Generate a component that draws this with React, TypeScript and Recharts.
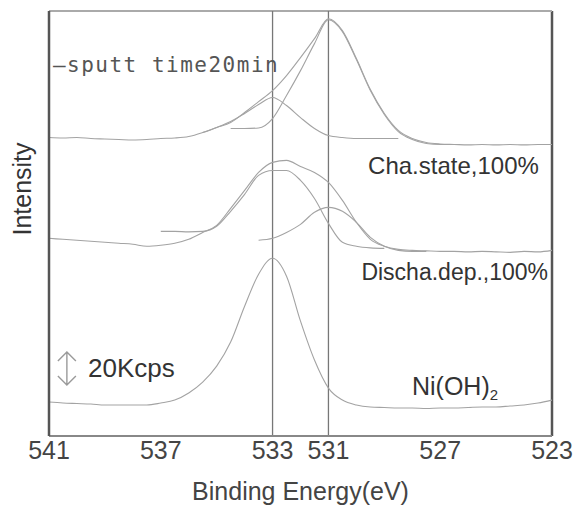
import {
  Line,
  LineChart,
  ReferenceDot,
  ReferenceLine,
  XAxis,
  YAxis,
} from "recharts";

// binding energy grid (eV), 0.5 eV steps
const energy = [
  541, 540.5, 540, 539.5, 539, 538.5, 538, 537.5, 537, 536.5, 536, 535.5, 535,
  534.5, 534, 533.5, 533, 532.5, 532, 531.5, 531, 530.5, 530, 529.5, 529,
  528.5, 528, 527.5, 527, 526.5, 526, 525.5, 525, 524.5, 524, 523.5, 523,
];
const energyTicks = [541, 537, 533, 531, 527, 523];
const peakLines = [533, 531];

// intensities in Kcps (spectra are stacked with offsets)
const chaState = [
  181.2, 180.9, 181.2, 180.6, 180.3, 180.0, 179.7, 180.0, 180.6, 180.9, 181.8,
  184.2, 187.3, 190.3, 196.4, 203.0, 209.7, 218.8, 229.7, 241.2, 253.3, 246.1,
  229.1, 210.3, 195.8, 185.5, 180.6, 178.2, 177.3, 177.0, 176.7, 177.0, 176.7,
  177.0, 176.7, 177.0, 177.0,
];
const chaState533 = [
  null, null, null, null, null, null, null, null, null, null, null,
  184.2, 187.3, 190.9, 195.8, 201.2, 205.5, 200.6, 193.3, 186.7, 182.4, 181.2,
  180.6, 180.6, 180.6, 180.6,
  null, null, null, null, null, null, null, null, null, null, null,
];
const chaState531 = [
  null, null, null, null, null, null, null, null, null, null, null, null, null,
  186.7, 186.7, 187.0, 192.7, 206.7, 221.8, 238.2, 252.7, 245.5, 228.5, 209.7,
  195.2, 184.8, 180.0, 177.6, 177.0, 177.0,
  null, null, null, null, null, null, null,
];
const dischaDep = [
  120.0, 119.4, 118.8, 118.2, 117.6, 117.0, 116.4, 115.2, 115.8, 117.0, 119.4,
  123.6, 127.9, 138.2, 149.1, 160.0, 166.1, 167.3, 163.6, 160.0, 153.9, 143.0,
  129.7, 119.4, 115.2, 113.3, 112.7, 112.4, 112.1, 112.1, 111.8, 112.1, 111.8,
  111.5, 112.1, 111.8, 112.7,
];
const dischaDep533 = [
  null, null, null, null, null, null, null, null,
  124.2, 124.2, 123.9, 124.2, 127.3, 136.4, 146.7, 158.2, 161.2, 161.2, 155.2,
  144.2, 129.1, 117.6, 115.2, 114.2, 113.9,
  null, null, null, null, null, null, null, null, null, null, null, null,
];
const dischaDep531 = [
  null, null, null, null, null, null, null, null, null, null, null, null, null,
  null, null,
  118.8, 120.0, 123.6, 128.5, 135.8, 138.8, 136.4, 129.7, 120.6, 115.2, 112.7,
  112.1, 112.1,
  null, null, null, null, null, null, null, null, null,
];
const niOH2 = [
  20.6, 20.0, 19.7, 19.4, 18.8, 18.8, 18.8, 18.8, 20.0, 21.8, 26.1, 32.7, 42.4,
  57.0, 78.8, 98.2, 107.9, 97.0, 69.7, 46.1, 29.1, 21.8, 18.8, 17.6, 17.3, 17.0,
  17.0, 16.7, 17.0, 17.0, 17.3, 17.6, 17.6, 18.2, 18.8, 20.0, 21.8,
];

const seriesKeys = [
  "chaState",
  "chaState533",
  "chaState531",
  "dischaDep",
  "dischaDep533",
  "dischaDep531",
  "niOH2",
];

const data = energy.map((e, i) => ({
  e,
  chaState: chaState[i],
  chaState533: chaState533[i],
  chaState531: chaState531[i],
  dischaDep: dischaDep[i],
  dischaDep533: dischaDep533[i],
  dischaDep531: dischaDep531[i],
  niOH2: niOH2[i],
}));

const FONT = "'Liberation Sans', Arial, sans-serif";

const note =
  (text: any, anchor: string, size: number, extra: any = {}) =>
  (p: any) => {
    const vb = p.viewBox || { x: 0, y: 0 };
    return (
      <text
        x={vb.x}
        y={vb.y}
        textAnchor={anchor}
        fontSize={size}
        fill="#333"
        fontFamily={FONT}
        {...extra}
      >
        {text}
      </text>
    );
  };

const ScaleArrow = (p: any) => {
  const x = p.x1;
  const top = Math.min(p.y1, p.y2);
  const bot = Math.max(p.y1, p.y2);
  return (
    <path
      d={`M${x},${top} L${x},${bot} M${x - 9},${top + 9} L${x},${top} L${x + 9},${top + 9} M${x - 9},${bot - 9} L${x},${bot} L${x + 9},${bot - 9}`}
      stroke="#9a9a9a"
      strokeWidth={1.4}
      fill="none"
    />
  );
};

export default function App() {
  return (
    <div style={{ position: "absolute", left: 0, top: 0, background: "#fff" }}>
      <LineChart
        width={580}
        height={508}
        data={data}
        margin={{ top: 11, right: 28, left: 0, bottom: 0 }}
        style={{ fontFamily: FONT }}
      >
        <XAxis
          dataKey="e"
          type="number"
          domain={[523, 541]}
          reversed
          ticks={energyTicks}
          interval={0}
          height={72}
          tickLine={false}
          tickSize={0}
          tickMargin={5}
          axisLine={{ stroke: "#888", strokeWidth: 2 }}
          tick={{ fontSize: 25, fill: "#444" }}
          label={{
            value: "Binding Energy(eV)",
            position: "insideBottom",
            offset: 8,
            fontSize: 25,
            fill: "#444",
          }}
        />
        <YAxis
          type="number"
          domain={[0, 258]}
          width={49}
          tick={false}
          tickLine={false}
          axisLine={{ stroke: "#555", strokeWidth: 2.5 }}
          label={{
            content: (p: any) => {
              const vb = p.viewBox || { x: 0, y: 11 };
              const cx = vb.x + 22;
              const cy = vb.y + 178;
              return (
                <text
                  x={cx}
                  y={cy}
                  transform={`rotate(-90, ${cx}, ${cy})`}
                  textAnchor="middle"
                  dominantBaseline="central"
                  fontSize={25}
                  fill="#333"
                  fontFamily={FONT}
                >
                  Intensity
                </text>
              );
            },
          }}
        />
        <ReferenceLine x={523} stroke="#555" strokeWidth={2.5} />
        <ReferenceLine y={258} stroke="#aaa" strokeWidth={2} />
        {peakLines.map((v) => (
          <ReferenceLine key={v} x={v} stroke="#777" strokeWidth={1.3} />
        ))}
        {seriesKeys.map((k) => (
          <Line
            key={k}
            dataKey={k}
            type="monotone"
            stroke="#a3a3a3"
            strokeWidth={1.1}
            dot={false}
            isAnimationActive={false}
          />
        ))}
        <ReferenceLine
          segment={[
            { x: 540.36, y: 31 },
            { x: 540.36, y: 51 },
          ]}
          shape={ScaleArrow}
        />
        <ReferenceDot
          x={540.86}
          y={221}
          r={0}
          stroke="none"
          label={note("—sputt time20min", "start", 21, {
            fontFamily: "'DejaVu Sans Mono', monospace",
            letterSpacing: 1.5,
            fill: "#555",
          })}
        />
        <ReferenceDot
          x={523.47}
          y={159}
          r={0}
          stroke="none"
          label={note("Cha.state,100%", "end", 24)}
        />
        <ReferenceDot
          x={523.14}
          y={94.7}
          r={0}
          stroke="none"
          label={note("Discha.dep.,100%", "end", 23)}
        />
        <ReferenceDot
          x={528.01}
          y={24.9}
          r={0}
          stroke="none"
          label={note(
            <>
              Ni(OH)
              <tspan fontSize={15} dy={5}>
                2
              </tspan>
            </>,
            "start",
            25
          )}
        />
        <ReferenceDot
          x={539.6}
          y={35.8}
          r={0}
          stroke="none"
          label={note("20Kcps", "start", 26)}
        />
      </LineChart>
    </div>
  );
}
